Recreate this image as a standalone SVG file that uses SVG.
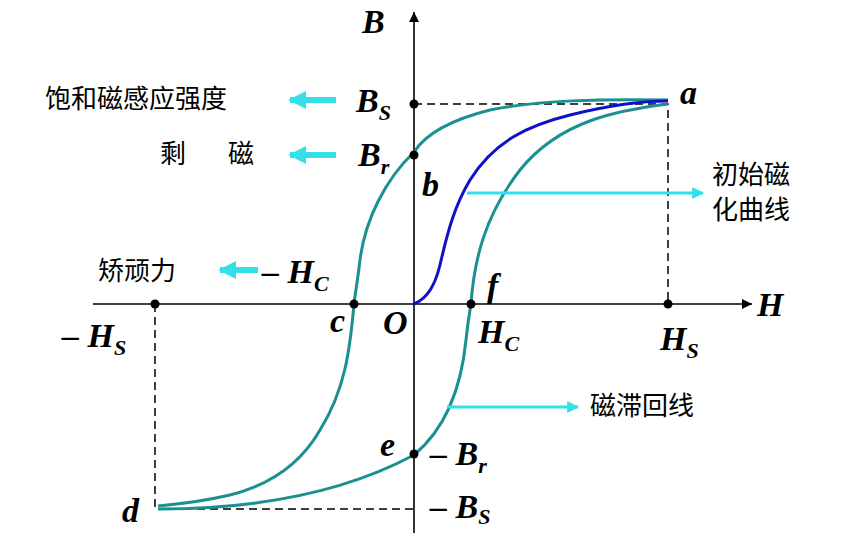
<svg xmlns="http://www.w3.org/2000/svg" width="843" height="533" viewBox="0 0 843 533">
<defs>
<style>
.ax{stroke:#000;stroke-width:1.6;fill:none}
.dash{stroke:#000;stroke-width:1.5;stroke-dasharray:8,5;fill:none}
.loop{stroke:#1a9090;stroke-width:3;fill:none}
.init{stroke:#1010c8;stroke-width:3;fill:none}
.cy{stroke:#33e0e8;stroke-width:3;fill:none}
.cyt{stroke:#33e0e8;stroke-width:6;fill:none}
.it{font-family:"Liberation Serif",serif;font-style:italic;font-weight:bold;fill:#000;font-size:34px}
.sub{font-size:22px}
.cn{font-family:"Noto Sans CJK SC",sans-serif;font-size:26px;fill:#000}
</style>
<marker id="ah" viewBox="0 0 10 10" refX="10" refY="5" markerWidth="10" markerHeight="10" markerUnits="userSpaceOnUse" orient="auto"><path d="M0,0L10,5L0,10z" fill="#000"/></marker>
<marker id="ca" viewBox="0 0 10 10" refX="9" refY="5" markerWidth="12" markerHeight="12" markerUnits="userSpaceOnUse" orient="auto"><path d="M0,0L10,5L0,10z" fill="#33e0e8"/></marker>
<marker id="cb" viewBox="0 0 10 10" refX="9" refY="5" markerWidth="18" markerHeight="18" markerUnits="userSpaceOnUse" orient="auto"><path d="M0,0L10,5L0,10z" fill="#33e0e8"/></marker>
</defs>
<g id="connectors">
<line class="ax" x1="93" y1="304" x2="752" y2="304" marker-end="url(#ah)"/>
<line class="ax" x1="414" y1="533" x2="414" y2="12" marker-end="url(#ah)"/>
<path class="dash" d="M414,104H668V304"/>
<path class="dash" d="M155,304V509H414"/>
<path class="loop" d="M668,100C600,99 540,100 490,110C450,120 425,135 414,152C385,180 365,220 360,260C357,285 355,295 354,304C350,350 345,390 320,430C300,465 270,485 230,495C200,502 180,504 158,506"/>
<path class="loop" d="M158,509C230,509 330,500 414,455C450,425 462,380 466,340C468,320 470,310 471,304C474,260 485,215 520,170C560,120 620,110 668,104"/>
<path class="init" d="M414,304C428,298 435,285 440,265C448,230 455,205 470,180C495,140 530,125 570,115C610,105 640,101 668,101"/>
<line class="cyt" x1="336" y1="100" x2="290" y2="100" marker-end="url(#cb)"/>
<line class="cyt" x1="336" y1="155" x2="290" y2="155" marker-end="url(#cb)"/>
<line class="cyt" x1="258" y1="270" x2="220" y2="270" marker-end="url(#cb)"/>
<line class="cy" x1="467" y1="193" x2="703" y2="193" marker-end="url(#ca)"/>
<line class="cy" x1="447" y1="407" x2="578" y2="407" marker-end="url(#ca)"/>
</g>
<g id="points" fill="#000">
<circle cx="414" cy="104" r="4.5"/><circle cx="414" cy="155" r="4.5"/>
<circle cx="354" cy="304" r="4.5"/><circle cx="471" cy="304" r="4.5"/>
<circle cx="668" cy="304" r="4.5"/><circle cx="155" cy="304" r="4.5"/>
<circle cx="414" cy="454" r="4.5"/>
</g>
<g id="labels">
<text class="it" x="362" y="33">B</text>
<text class="it" x="757" y="316">H</text>
<text class="it" x="356" y="112">B<tspan class="sub" dy="8">S</tspan></text>
<text class="it" x="358" y="166">B<tspan class="sub" dy="8">r</tspan></text>
<text class="it" x="680" y="104">a</text>
<text class="it" x="422" y="196">b</text>
<text class="it" x="330" y="332">c</text>
<text class="it" x="383" y="334">O</text>
<text class="it" x="487" y="297">f</text>
<text class="it" x="380" y="456">e</text>
<text class="it" x="122" y="522">d</text>
<text class="it" x="262" y="283">– H<tspan class="sub" dy="8">C</tspan></text>
<text class="it" x="478" y="343">H<tspan class="sub" dy="8">C</tspan></text>
<text class="it" x="660" y="350">H<tspan class="sub" dy="8">S</tspan></text>
<text class="it" x="62" y="347">– H<tspan class="sub" dy="8">S</tspan></text>
<text class="it" x="430" y="465">– B<tspan class="sub" dy="8">r</tspan></text>
<text class="it" x="430" y="518">– B<tspan class="sub" dy="6">S</tspan></text>
<text class="cn" x="45" y="108">饱和磁感应强度</text>
<text class="cn" x="160" y="163">剩</text>
<text class="cn" x="228" y="163">磁</text>
<text class="cn" x="98" y="280">矫顽力</text>
<text class="cn" x="712" y="184">初始磁</text>
<text class="cn" x="712" y="219">化曲线</text>
<text class="cn" x="590" y="415">磁滞回线</text>
</g>
</svg>
